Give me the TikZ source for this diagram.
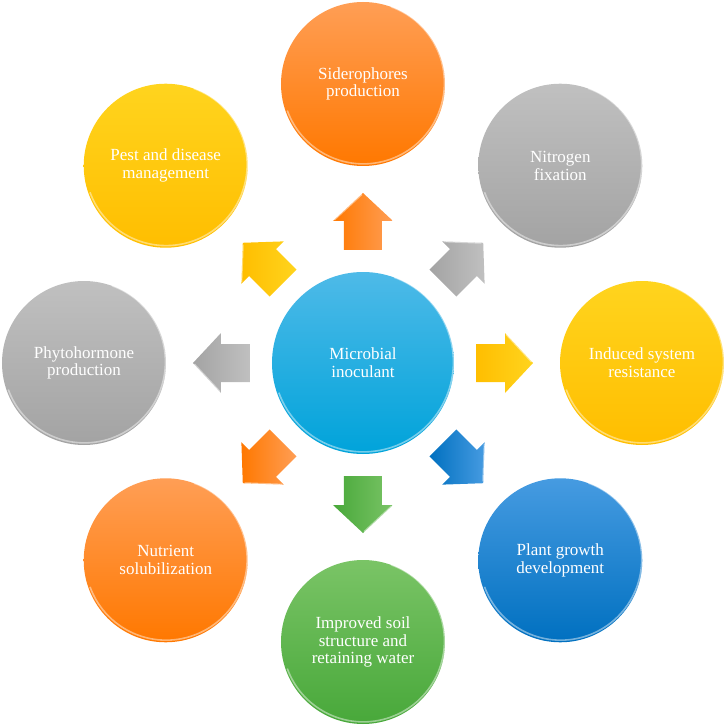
\documentclass[tikz,border=0pt]{standalone}
\usepackage{fontspec}
\setmainfont{Liberation Serif}
\definecolor{orT}{RGB}{255,158,85}
\definecolor{orB}{RGB}{255,120,0}
\definecolor{grT}{RGB}{192,192,192}
\definecolor{grB}{RGB}{163,163,163}
\definecolor{yeT}{RGB}{255,212,30}
\definecolor{yeB}{RGB}{255,190,0}
\definecolor{blT}{RGB}{70,155,225}
\definecolor{blB}{RGB}{0,112,192}
\definecolor{gnT}{RGB}{122,196,102}
\definecolor{gnB}{RGB}{72,168,58}
\definecolor{cyT}{RGB}{78,186,232}
\definecolor{cyB}{RGB}{0,163,218}
\tikzset{
  bub/.style={circle, minimum size=164pt, inner sep=0pt, align=center,
    text=white, font=\fontsize{17}{17.8}\selectfont},
  hub/.style={bub, minimum size=182pt},
  rim/.style={white, opacity=.45, line width=1.6pt},
}
\begin{document}
\begin{tikzpicture}[x=1pt,y=1pt]
\useasboundingbox (-363,-363) rectangle (361,363);
% hub
\node[hub, top color=cyT, bottom color=cyB] (hub) at (0,0) {Microbial\\inoculant};
% satellites
\node[bub, top color=orT, bottom color=orB] (sid) at (90:279) {Siderophores\\production};
\node[bub, top color=grT, bottom color=grB] (nit) at (45:279) {Nitrogen\\fixation};
\node[bub, top color=yeT, bottom color=yeB] (isr) at (0:279) {Induced system\\resistance};
\node[bub, top color=blT, bottom color=blB] (pgd) at (-45:279) {Plant growth\\development};
\node[bub, top color=gnT, bottom color=gnB] (soil) at (-90:279) {Improved soil\\structure and\\retaining water};
\node[bub, top color=orT, bottom color=orB] (nut) at (-135:279) {Nutrient\\solubilization};
\node[bub, top color=grT, bottom color=grB] (phy) at (180:279) {Phytohormone\\production};
\node[bub, top color=yeT, bottom color=yeB] (pest) at (135:279) {Pest and disease\\management};
% rims
\foreach \n/\r in {hub/90, sid/81, nit/81, isr/81, pgd/81, soil/81, nut/81, phy/81, pest/81}{
  \draw[rim] (\n.70) arc[start angle=70, end angle=-160, radius=\r];
}
% block arrows
\foreach \a/\c in {90/or, 45/gr, 0/ye, -45/bl, -90/gn, -135/or, 180/gr, 135/ye}{
  \begin{scope}[rotate=\a]
    \shade[left color=\c B, right color=\c T]
      (113,-19) -- (142,-19) -- (142,-30) -- (170,0) -- (142,30) -- (142,19) -- (113,19) -- cycle;
    \draw[white, opacity=.45, line width=1.2pt] (143,28.5) -- (168.5,1);
  \end{scope}
}
\end{tikzpicture}
\end{document}
